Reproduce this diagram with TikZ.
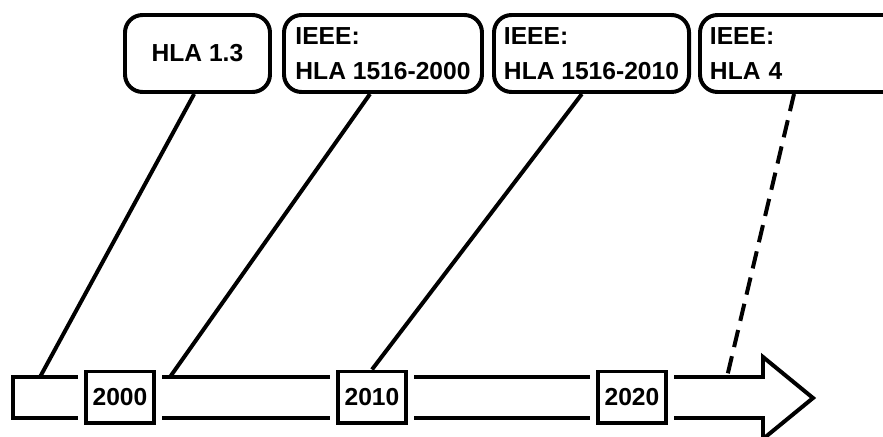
\documentclass[tikz,border=0pt]{standalone}
\usepackage{fontspec}
\setmainfont{Liberation Sans}

\begin{document}
\begin{tikzpicture}[x=0.03cm,y=-0.03cm,
    font=\fontsize{21}{30}\selectfont\bfseries,
    verbox/.style={draw,line width=3.4pt,rounded corners=15pt,anchor=north west,
        minimum height=2.31cm,inner xsep=0.3cm,align=left},
    yearbox/.style={draw,line width=3.4pt,fill=white,minimum width=2.04cm,
        minimum height=1.53cm,inner sep=0pt,preaction={draw=white,line width=14pt}},
    link/.style={line width=3.4pt}]

\clip (0,0) rectangle (883,436);

% time axis
\draw[line width=3.4pt,miter limit=20] (13,377) -- (763,377) -- (763,357) -- (813,398)
    -- (763,439) -- (763,418) -- (13,418) -- cycle;

\foreach \yr/\x in {2000/120,2010/372,2020/632}
    \node[yearbox] (y\yr) at (\x,397) {\yr};

% versions
\node[verbox,align=center,minimum width=4.35cm] (v13) at (123,13) {HLA 1.3};
\node[verbox,minimum width=5.94cm] (v2000) at (282,13) {IEEE:\\HLA 1516-2000};
\node[verbox,minimum width=5.85cm] (v2010) at (492,13) {IEEE:\\HLA 1516-2010};
\node[verbox,text width=6cm] (v4) at (698,13) {IEEE:\\HLA 4};

\coordinate (e13) at (40,377);
\coordinate (e2000) at (170,377);
\coordinate (e4) at (727,377);

\draw[link] ([xshift=-0.1cm]v13.south) -- (e13);
\draw[link] ([xshift=-0.39cm]v2000.south) -- (e2000);
\draw[link] ([xshift=-0.29cm]v2010.south) -- (y2010.north);
\draw[link,dash pattern=on 15pt off 8pt] ([xshift=-0.48cm]v4.south) -- (e4);

\end{tikzpicture}
\end{document}
